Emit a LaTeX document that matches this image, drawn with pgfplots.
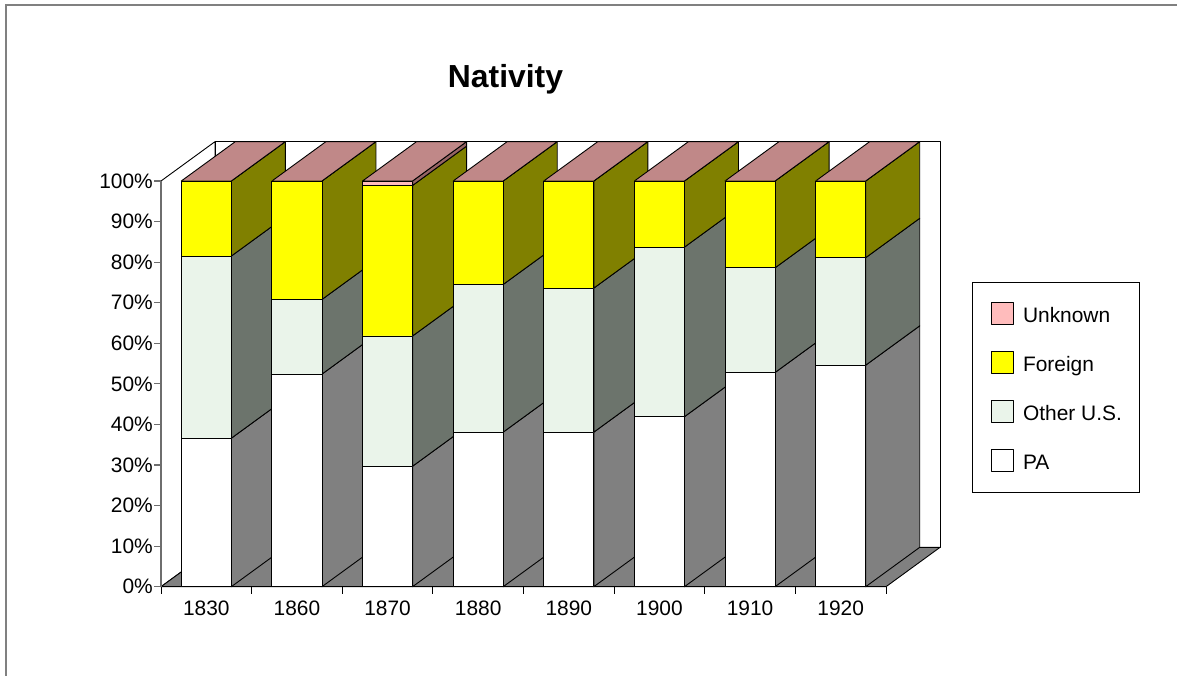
\documentclass[border=0pt]{standalone}
\usepackage{fontspec}
\setmainfont{Liberation Sans}
\usepackage{pgfplots}
\usepackage{pgfplotstable}
\pgfplotsset{compat=1.18}

\definecolor{framegray}{RGB}{128,128,128}
\definecolor{paside}{RGB}{128,128,128}
\definecolor{otherfront}{RGB}{234,244,234}
\definecolor{otherside}{RGB}{108,116,108}
\definecolor{foreignfront}{RGB}{255,255,0}
\definecolor{foreignside}{RGB}{128,128,0}
\definecolor{unkfront}{RGB}{255,188,188}
\definecolor{unkside}{RGB}{150,100,100}
\definecolor{unktop}{RGB}{192,136,136}
\definecolor{floorgray}{RGB}{128,128,128}
\definecolor{axisgray}{RGB}{110,110,110}

% year index, shares in percent
\pgfplotstableread{
x PA Other Foreign Unknown
0 36.6 44.9 18.5 0.0
1 52.4 18.4 29.2 0.0
2 29.7 32.1 37.1 1.1
3 38.1 36.4 25.5 0.0
4 38.1 35.5 26.4 0.0
5 41.9 41.8 16.3 0.0
6 52.8 25.8 21.4 0.0
7 54.6 26.5 18.9 0.0
}\datatable

\newcommand\bw{0.552}
\newcommand\depthx{0.596}
\newcommand\depthy{9.7}

\tikzset{
  edge/.style={draw=black, line width=0.9bp, line join=round},
  sideA/.style={edge, fill=paside},
  sideB/.style={edge, fill=otherside},
  sideC/.style={edge, fill=foreignside},
  sideD/.style={edge, fill=unkside},
  topface/.style={edge, fill=unktop},
  wall/.style={edge, fill=white},
  floorst/.style={edge, fill=floorgray},
}
\pgfplotsset{
  swatch/.style={legend image code/.code={\draw[##1, line width=0.9bp] (0bp,-11bp) rectangle (22bp,11bp);}},
}

\begin{document}
\begin{tikzpicture}
\useasboundingbox (0,0) rectangle (1177bp,676bp);
\draw[framegray, line width=1.6bp] (6bp,-5bp) -- (6bp,671bp) -- (1190bp,671bp);

% ---- back: walls, floor, side and top faces of the bars ----
\begin{axis}[
  at={(161bp,89.3bp)}, anchor=south west,
  width=725bp, height=405.7bp, scale only axis,
  xmin=-0.5, xmax=7.5, ymin=0, ymax=100,
  hide axis, clip=false]
\addplot[wall] coordinates {(-0.5,0) (0.096,9.7) (0.096,109.7) (-0.5,100)} -- cycle;
\addplot[wall] coordinates {(0.096,9.7) (8.096,9.7) (8.096,109.7) (0.096,109.7)} -- cycle;
\addplot[floorst] coordinates {(-0.5,0) (7.5,0) (8.096,9.7) (0.096,9.7)} -- cycle;
\pgfplotsforeachungrouped \ii in {0,...,7}{%
  \pgfplotstablegetelem{\ii}{PA}\of\datatable \let\vA=\pgfplotsretval
  \pgfplotstablegetelem{\ii}{Other}\of\datatable \let\vB=\pgfplotsretval
  \pgfplotstablegetelem{\ii}{Foreign}\of\datatable \let\vC=\pgfplotsretval
  \pgfplotstablegetelem{\ii}{Unknown}\of\datatable \let\vD=\pgfplotsretval
  \pgfmathsetmacro\xl{\ii-\bw/2}%
  \pgfmathsetmacro\xr{\ii+\bw/2}%
  \pgfmathsetmacro\xlb{\xl+\depthx}%
  \pgfmathsetmacro\xrb{\xr+\depthx}%
  \pgfmathsetmacro\yA{\vA}%
  \pgfmathsetmacro\yB{\yA+\vB}%
  \pgfmathsetmacro\yC{\yB+\vC}%
  \pgfmathsetmacro\yD{\yC+\vD}%
  \pgfmathsetmacro\yZb{\depthy}%
  \pgfmathsetmacro\yAb{\yA+\depthy}%
  \pgfmathsetmacro\yBb{\yB+\depthy}%
  \pgfmathsetmacro\yCb{\yC+\depthy}%
  \pgfmathsetmacro\yDb{\yD+\depthy}%
  \edef\tmp{%
    \noexpand\addplot[sideA] coordinates {(\xr,0) (\xrb,\yZb) (\xrb,\yAb) (\xr,\yA)} -- cycle;
    \noexpand\addplot[sideB] coordinates {(\xr,\yA) (\xrb,\yAb) (\xrb,\yBb) (\xr,\yB)} -- cycle;
    \noexpand\addplot[sideC] coordinates {(\xr,\yB) (\xrb,\yBb) (\xrb,\yCb) (\xr,\yC)} -- cycle;
    \noexpand\addplot[sideD] coordinates {(\xr,\yC) (\xrb,\yCb) (\xrb,\yDb) (\xr,\yD)} -- cycle;
    \noexpand\addplot[topface] coordinates {(\xl,\yD) (\xr,\yD) (\xrb,\yDb) (\xlb,\yDb)} -- cycle;
  }\tmp
}
\end{axis}

% ---- front faces, axes, legend ----
\begin{axis}[
  at={(161bp,89.3bp)}, anchor=south west,
  width=725bp, height=405.7bp, scale only axis,
  xmin=-0.5, xmax=7.5, ymin=0, ymax=100,
  ybar stacked, bar width=0.552,
  axis x line*=bottom, axis y line*=left,
  axis line style={-},
  x axis line style={black, line width=1bp},
  y axis line style={axisgray, line width=1.6bp},
  xtick={-0.5,0.5,...,7.5},
  xticklabels={},
  extra x ticks={0,...,7},
  extra x tick labels={1830,1860,1870,1880,1890,1900,1910,1920},
  extra x tick style={major tick length=0pt, tick style={draw=none},
    xticklabel style={inner ysep=0pt, yshift=-14bp}},
  ytick={0,10,...,100},
  yticklabels={0\%,10\%,20\%,30\%,40\%,50\%,60\%,70\%,80\%,90\%,100\%},
  major tick length=7bp,
  tick align=outside,
  y tick style={axisgray, line width=1.2bp},
  x tick style={black, line width=1bp},
  ticklabel style={font=\fontsize{21}{25}\selectfont},
  yticklabel style={inner xsep=1bp},
  reverse legend,
  legend cell align=left,
  legend style={at={(1.119,0.7518)}, anchor=north west,
    draw=black, line width=0.9bp,
    font=\fontsize{21}{25}\selectfont,
    inner xsep=18bp, inner ysep=20bp, row sep=26.2bp,
    nodes={inner sep=0pt, text height=18.5bp, text depth=1.5bp},
    /tikz/every odd column/.append style={column sep=9.4bp}},
]
\addplot[edge, fill=white, swatch] table[x=x, y=PA]{\datatable};
\addplot[edge, fill=otherfront, swatch] table[x=x, y=Other]{\datatable};
\addplot[edge, fill=foreignfront, swatch] table[x=x, y=Foreign]{\datatable};
\addplot[edge, fill=unkfront, swatch] table[x=x, y=Unknown]{\datatable};
\legend{PA,Other U.S.,Foreign,Unknown}
\end{axis}

\node[font=\fontsize{32}{38}\selectfont\bfseries, anchor=base] at (505.5bp,588.3bp) {Nativity};
\end{tikzpicture}
\end{document}
